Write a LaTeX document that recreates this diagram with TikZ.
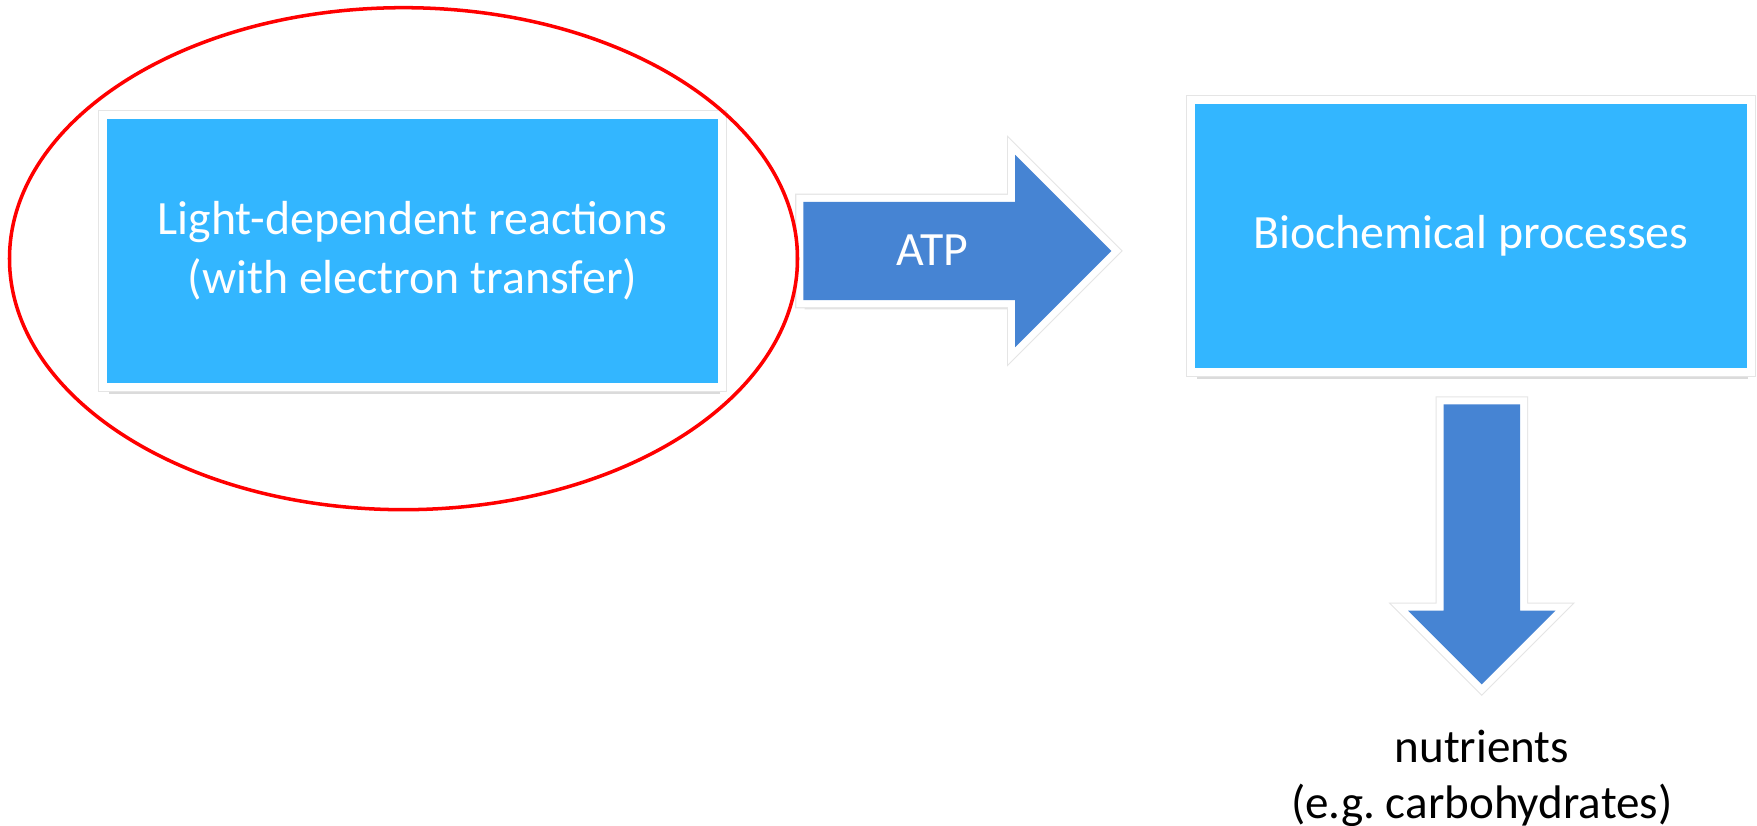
\documentclass[tikz,border=0pt]{standalone}
\usepackage{fontspec}
\setmainfont{Carlito}
\usetikzlibrary{shapes.arrows, shadows, positioning}

\definecolor{boxblue}{RGB}{51,182,255}
\definecolor{arrowblue}{RGB}{70,132,211}

\begin{document}
\begin{tikzpicture}[
        procbox/.style={fill=boxblue, text=white, align=center, inner sep=0pt,
            minimum height=2.64cm, font=\fontsize{13.6}{16.8}\selectfont,
            drop shadow={shadow xshift=0.5pt, shadow yshift=-3.2pt, fill=black!28},
            preaction={draw=black!10, line width=5.3pt},
            preaction={draw=white, line width=4.6pt}},
        blockarrow/.style={single arrow, single arrow tip angle=90, fill=arrowblue,
            text=white, inner sep=0pt, font=\fontsize{13.6}{16}\selectfont,
            drop shadow={shadow xshift=0.4pt, shadow yshift=-2.6pt, fill=black!22},
            preaction={draw=black!10, line width=4.6pt, line join=miter},
            preaction={draw=white, line width=4pt, line join=miter}},
        ring/.style={draw=red, line width=1pt}
    ]

        % Background and page size
        \fill[white] (0,0) rectangle (17.57,8.26);
        \useasboundingbox (0,0) rectangle (17.57,8.26);

        % Light-dependent reactions
        \node[procbox, minimum width=6.11cm] (light) at (4.124,5.75) {Light-dependent reactions\\(with electron transfer)};

        % Biochemical processes
        \node[procbox, minimum width=5.515cm] (bio) at (14.708,5.90) {Biochemical processes};

        % ATP arrow
        \node[blockarrow, anchor=tail, minimum height=3.08cm, minimum width=1.91cm,
            single arrow head extend=0.47cm, text height=0.635cm, text depth=0.335cm]
            (atp) at ([xshift=8.4mm]light.east) {ATP};

        % Arrow down to the products
        \node[blockarrow, rotate=-90, anchor=tail, minimum height=2.8cm, minimum width=1.46cm,
            single arrow head extend=0.355cm, text height=0.75cm, text depth=0pt]
            (down) at ([xshift=1.1mm, yshift=-3.5mm]bio.south) {};

        % Products
        \node[align=center, inner sep=0pt, font=\fontsize{13.4}{16}\selectfont, below=4.4mm of down.tip]
            (food) {nutrients\\(e.g.\ carbohydrates)};

        % Highlight ring
        \draw[ring] (4.035,5.673) ellipse [x radius=3.94, y radius=2.51];

    \end{tikzpicture}
\end{document}
